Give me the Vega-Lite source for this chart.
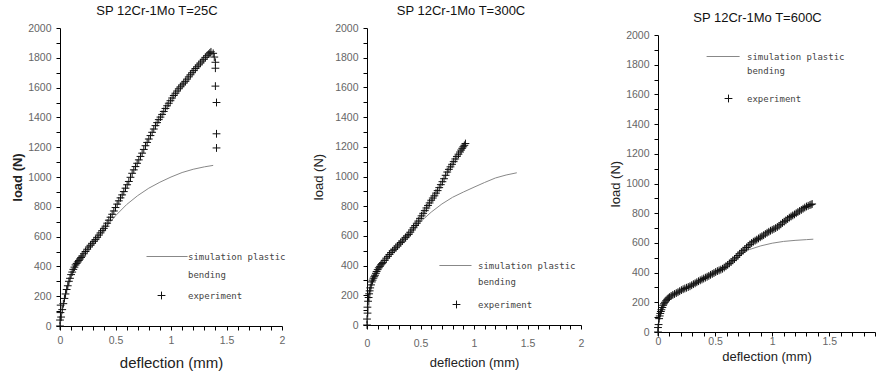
{
  "$schema": "https://vega.github.io/schema/vega-lite/v6.json",
  "background": "white",
  "padding": {"left": 11, "top": 5, "right": 0, "bottom": 0},
  "bounds": "flush",
  "spacing": 85,
  "config": {
    "view": {"stroke": null},
    "font": "Liberation Sans",
    "axis": {
      "domainColor": "#000",
      "domainWidth": 1,
      "tickColor": "#000",
      "tickSize": 4,
      "labelFontSize": 10.5,
      "labelColor": "#666",
      "labelPadding": 5,
      "titleColor": "#222",
      "titleFontWeight": "normal",
      "grid": false,
      "labelOverlap": false,
      "labelFlush": false
    },
    "legend": {
      "orient": "none",
      "title": null,
      "symbolSize": 36,
      "symbolStrokeWidth": 1,
      "symbolOpacity": 1,
      "labelFont": "DejaVu Sans Mono",
      "labelFontSize": 9,
      "labelColor": "#444",
      "padding": 0
    }
  },
  "resolve": {
    "scale": {"x": "independent", "y": "independent", "color": "independent", "shape": "independent"},
    "legend": {"color": "independent", "shape": "independent"},
    "axis": {"x": "independent", "y": "independent"}
  },
  "datasets": {
    "p1sim": [
      {"d": 0, "load": 0}, {"d": 0.02, "load": 100}, {"d": 0.05, "load": 210}, {"d": 0.1, "load": 340}, {"d": 0.15, "load": 420}, {"d": 0.2, "load": 475}, {"d": 0.3, "load": 565}, {"d": 0.4, "load": 650}, {"d": 0.5, "load": 740}, {"d": 0.6, "load": 815}, {"d": 0.7, "load": 875}, {"d": 0.8, "load": 925}, {"d": 0.9, "load": 965}, {"d": 1.0, "load": 1000}, {"d": 1.1, "load": 1030}, {"d": 1.2, "load": 1052}, {"d": 1.3, "load": 1068}, {"d": 1.38, "load": 1078}
    ],
    "p1exp": [
      {"d": 0, "load": 0, "s": "exp"}, {"d": 0, "load": 40, "s": "exp"}, {"d": 0.004, "load": 90, "s": "exp"}, {"d": 0.006, "load": 140, "s": "exp"}, {"d": 0.01, "load": 60, "s": "exp"}, {"d": 0.02, "load": 110, "s": "exp"}, {"d": 0.03, "load": 150, "s": "exp"}, {"d": 0.04, "load": 185, "s": "exp"}, {"d": 0.05, "load": 215, "s": "exp"}, {"d": 0.06, "load": 245, "s": "exp"}, {"d": 0.07, "load": 270, "s": "exp"}, {"d": 0.08, "load": 300, "s": "exp"}, {"d": 0.09, "load": 320, "s": "exp"}, {"d": 0.1, "load": 345, "s": "exp"}, {"d": 0.11, "load": 362, "s": "exp"}, {"d": 0.12, "load": 380, "s": "exp"}, {"d": 0.13, "load": 395, "s": "exp"}, {"d": 0.14, "load": 410, "s": "exp"}, {"d": 0.15, "load": 420, "s": "exp"}, {"d": 0.16, "load": 430, "s": "exp"}, {"d": 0.17, "load": 440, "s": "exp"}, {"d": 0.18, "load": 450, "s": "exp"}, {"d": 0.19, "load": 460, "s": "exp"}, {"d": 0.2, "load": 470, "s": "exp"}, {"d": 0.215, "load": 485, "s": "exp"}, {"d": 0.23, "load": 500, "s": "exp"}, {"d": 0.245, "load": 515, "s": "exp"}, {"d": 0.26, "load": 530, "s": "exp"}, {"d": 0.275, "load": 542, "s": "exp"}, {"d": 0.29, "load": 555, "s": "exp"}, {"d": 0.305, "load": 568, "s": "exp"}, {"d": 0.32, "load": 580, "s": "exp"}, {"d": 0.335, "load": 595, "s": "exp"}, {"d": 0.35, "load": 610, "s": "exp"}, {"d": 0.365, "load": 625, "s": "exp"}, {"d": 0.38, "load": 640, "s": "exp"}, {"d": 0.395, "load": 655, "s": "exp"}, {"d": 0.41, "load": 670, "s": "exp"}, {"d": 0.425, "load": 690, "s": "exp"}, {"d": 0.44, "load": 710, "s": "exp"}, {"d": 0.455, "load": 730, "s": "exp"}, {"d": 0.47, "load": 750, "s": "exp"}, {"d": 0.485, "load": 772, "s": "exp"}, {"d": 0.5, "load": 795, "s": "exp"}, {"d": 0.515, "load": 818, "s": "exp"}, {"d": 0.53, "load": 840, "s": "exp"}, {"d": 0.545, "load": 860, "s": "exp"}, {"d": 0.56, "load": 880, "s": "exp"}, {"d": 0.575, "load": 902, "s": "exp"}, {"d": 0.59, "load": 925, "s": "exp"}, {"d": 0.605, "load": 948, "s": "exp"}, {"d": 0.62, "load": 970, "s": "exp"}, {"d": 0.635, "load": 998, "s": "exp"}, {"d": 0.65, "load": 1025, "s": "exp"}, {"d": 0.665, "load": 1048, "s": "exp"}, {"d": 0.68, "load": 1070, "s": "exp"}, {"d": 0.695, "load": 1092, "s": "exp"}, {"d": 0.71, "load": 1115, "s": "exp"}, {"d": 0.725, "load": 1138, "s": "exp"}, {"d": 0.74, "load": 1160, "s": "exp"}, {"d": 0.755, "load": 1185, "s": "exp"}, {"d": 0.77, "load": 1210, "s": "exp"}, {"d": 0.785, "load": 1232, "s": "exp"}, {"d": 0.8, "load": 1255, "s": "exp"}, {"d": 0.815, "load": 1278, "s": "exp"}, {"d": 0.83, "load": 1300, "s": "exp"}, {"d": 0.845, "load": 1322, "s": "exp"}, {"d": 0.86, "load": 1345, "s": "exp"}, {"d": 0.875, "load": 1365, "s": "exp"}, {"d": 0.89, "load": 1385, "s": "exp"}, {"d": 0.905, "load": 1402, "s": "exp"}, {"d": 0.92, "load": 1420, "s": "exp"}, {"d": 0.935, "load": 1440, "s": "exp"}, {"d": 0.95, "load": 1460, "s": "exp"}, {"d": 0.965, "load": 1478, "s": "exp"}, {"d": 0.98, "load": 1495, "s": "exp"}, {"d": 0.995, "load": 1512, "s": "exp"}, {"d": 1.01, "load": 1530, "s": "exp"}, {"d": 1.025, "load": 1547, "s": "exp"}, {"d": 1.04, "load": 1562, "s": "exp"}, {"d": 1.055, "load": 1577, "s": "exp"}, {"d": 1.07, "load": 1592, "s": "exp"}, {"d": 1.085, "load": 1605, "s": "exp"}, {"d": 1.1, "load": 1618, "s": "exp"}, {"d": 1.115, "load": 1630, "s": "exp"}, {"d": 1.13, "load": 1642, "s": "exp"}, {"d": 1.145, "load": 1657, "s": "exp"}, {"d": 1.16, "load": 1672, "s": "exp"}, {"d": 1.175, "load": 1686, "s": "exp"}, {"d": 1.19, "load": 1700, "s": "exp"}, {"d": 1.205, "load": 1714, "s": "exp"}, {"d": 1.22, "load": 1728, "s": "exp"}, {"d": 1.235, "load": 1740, "s": "exp"}, {"d": 1.25, "load": 1752, "s": "exp"}, {"d": 1.265, "load": 1765, "s": "exp"}, {"d": 1.28, "load": 1778, "s": "exp"}, {"d": 1.295, "load": 1790, "s": "exp"}, {"d": 1.31, "load": 1803, "s": "exp"}, {"d": 1.325, "load": 1814, "s": "exp"}, {"d": 1.34, "load": 1825, "s": "exp"}, {"d": 1.35, "load": 1833, "s": "exp"}, {"d": 1.36, "load": 1840, "s": "exp"}, {"d": 1.38, "load": 1830, "s": "exp"}, {"d": 1.39, "load": 1805, "s": "exp"}, {"d": 1.4, "load": 1770, "s": "exp"}, {"d": 1.4, "load": 1730, "s": "exp"}, {"d": 1.4, "load": 1610, "s": "exp"}, {"d": 1.41, "load": 1500, "s": "exp"}, {"d": 1.41, "load": 1290, "s": "exp"}, {"d": 1.41, "load": 1195, "s": "exp"}
    ],
    "p2sim": [
      {"d": 0, "load": 0}, {"d": 0.02, "load": 150}, {"d": 0.05, "load": 290}, {"d": 0.1, "load": 370}, {"d": 0.2, "load": 460}, {"d": 0.3, "load": 545}, {"d": 0.4, "load": 620}, {"d": 0.5, "load": 695}, {"d": 0.6, "load": 760}, {"d": 0.7, "load": 815}, {"d": 0.8, "load": 860}, {"d": 0.9, "load": 895}, {"d": 1.0, "load": 928}, {"d": 1.1, "load": 960}, {"d": 1.2, "load": 990}, {"d": 1.3, "load": 1010}, {"d": 1.4, "load": 1025}
    ],
    "p2exp": [
      {"d": 0, "load": 0, "s": "exp"}, {"d": 0, "load": 40, "s": "exp"}, {"d": 0.005, "load": 80, "s": "exp"}, {"d": 0.004, "load": 120, "s": "exp"}, {"d": 0.01, "load": 160, "s": "exp"}, {"d": 0.015, "load": 185, "s": "exp"}, {"d": 0.02, "load": 210, "s": "exp"}, {"d": 0.025, "load": 230, "s": "exp"}, {"d": 0.03, "load": 250, "s": "exp"}, {"d": 0.038, "load": 270, "s": "exp"}, {"d": 0.045, "load": 290, "s": "exp"}, {"d": 0.052, "load": 302, "s": "exp"}, {"d": 0.06, "load": 315, "s": "exp"}, {"d": 0.068, "load": 325, "s": "exp"}, {"d": 0.075, "load": 335, "s": "exp"}, {"d": 0.083, "load": 348, "s": "exp"}, {"d": 0.09, "load": 360, "s": "exp"}, {"d": 0.1, "load": 373, "s": "exp"}, {"d": 0.11, "load": 385, "s": "exp"}, {"d": 0.12, "load": 395, "s": "exp"}, {"d": 0.13, "load": 405, "s": "exp"}, {"d": 0.14, "load": 413, "s": "exp"}, {"d": 0.15, "load": 420, "s": "exp"}, {"d": 0.165, "load": 435, "s": "exp"}, {"d": 0.18, "load": 450, "s": "exp"}, {"d": 0.195, "load": 462, "s": "exp"}, {"d": 0.21, "load": 475, "s": "exp"}, {"d": 0.225, "load": 488, "s": "exp"}, {"d": 0.24, "load": 500, "s": "exp"}, {"d": 0.255, "load": 510, "s": "exp"}, {"d": 0.27, "load": 520, "s": "exp"}, {"d": 0.285, "load": 532, "s": "exp"}, {"d": 0.3, "load": 545, "s": "exp"}, {"d": 0.315, "load": 555, "s": "exp"}, {"d": 0.33, "load": 565, "s": "exp"}, {"d": 0.345, "load": 578, "s": "exp"}, {"d": 0.36, "load": 590, "s": "exp"}, {"d": 0.375, "load": 600, "s": "exp"}, {"d": 0.39, "load": 610, "s": "exp"}, {"d": 0.405, "load": 625, "s": "exp"}, {"d": 0.42, "load": 640, "s": "exp"}, {"d": 0.435, "load": 655, "s": "exp"}, {"d": 0.45, "load": 670, "s": "exp"}, {"d": 0.465, "load": 685, "s": "exp"}, {"d": 0.48, "load": 700, "s": "exp"}, {"d": 0.495, "load": 718, "s": "exp"}, {"d": 0.51, "load": 735, "s": "exp"}, {"d": 0.525, "load": 752, "s": "exp"}, {"d": 0.54, "load": 770, "s": "exp"}, {"d": 0.555, "load": 788, "s": "exp"}, {"d": 0.57, "load": 805, "s": "exp"}, {"d": 0.585, "load": 822, "s": "exp"}, {"d": 0.6, "load": 840, "s": "exp"}, {"d": 0.615, "load": 855, "s": "exp"}, {"d": 0.63, "load": 870, "s": "exp"}, {"d": 0.645, "load": 888, "s": "exp"}, {"d": 0.66, "load": 905, "s": "exp"}, {"d": 0.675, "load": 925, "s": "exp"}, {"d": 0.69, "load": 945, "s": "exp"}, {"d": 0.705, "load": 965, "s": "exp"}, {"d": 0.72, "load": 985, "s": "exp"}, {"d": 0.735, "load": 1008, "s": "exp"}, {"d": 0.75, "load": 1030, "s": "exp"}, {"d": 0.765, "load": 1048, "s": "exp"}, {"d": 0.78, "load": 1065, "s": "exp"}, {"d": 0.795, "load": 1082, "s": "exp"}, {"d": 0.81, "load": 1100, "s": "exp"}, {"d": 0.825, "load": 1118, "s": "exp"}, {"d": 0.84, "load": 1135, "s": "exp"}, {"d": 0.855, "load": 1150, "s": "exp"}, {"d": 0.87, "load": 1165, "s": "exp"}, {"d": 0.88, "load": 1178, "s": "exp"}, {"d": 0.89, "load": 1190, "s": "exp"}, {"d": 0.9, "load": 1200, "s": "exp"}, {"d": 0.91, "load": 1210, "s": "exp"}, {"d": 0.92, "load": 1222, "s": "exp"}
    ],
    "p3sim": [
      {"d": 0, "load": 0}, {"d": 0.01, "load": 90}, {"d": 0.03, "load": 150}, {"d": 0.06, "load": 200}, {"d": 0.1, "load": 235}, {"d": 0.2, "load": 278}, {"d": 0.3, "load": 315}, {"d": 0.4, "load": 358}, {"d": 0.5, "load": 400}, {"d": 0.6, "load": 445}, {"d": 0.7, "load": 510}, {"d": 0.8, "load": 555}, {"d": 0.9, "load": 580}, {"d": 1.0, "load": 598}, {"d": 1.1, "load": 610}, {"d": 1.2, "load": 617}, {"d": 1.3, "load": 622}, {"d": 1.36, "load": 625}
    ],
    "p3exp": [
      {"d": 0, "load": 0, "s": "exp"}, {"d": 0, "load": 30, "s": "exp"}, {"d": 0.005, "load": 50, "s": "exp"}, {"d": 0.01, "load": 90, "s": "exp"}, {"d": 0.015, "load": 108, "s": "exp"}, {"d": 0.02, "load": 125, "s": "exp"}, {"d": 0.025, "load": 138, "s": "exp"}, {"d": 0.03, "load": 150, "s": "exp"}, {"d": 0.038, "load": 165, "s": "exp"}, {"d": 0.045, "load": 180, "s": "exp"}, {"d": 0.052, "load": 190, "s": "exp"}, {"d": 0.06, "load": 200, "s": "exp"}, {"d": 0.07, "load": 210, "s": "exp"}, {"d": 0.08, "load": 220, "s": "exp"}, {"d": 0.09, "load": 228, "s": "exp"}, {"d": 0.1, "load": 235, "s": "exp"}, {"d": 0.115, "load": 243, "s": "exp"}, {"d": 0.13, "load": 250, "s": "exp"}, {"d": 0.145, "load": 256, "s": "exp"}, {"d": 0.16, "load": 262, "s": "exp"}, {"d": 0.175, "load": 268, "s": "exp"}, {"d": 0.19, "load": 275, "s": "exp"}, {"d": 0.205, "load": 282, "s": "exp"}, {"d": 0.22, "load": 288, "s": "exp"}, {"d": 0.235, "load": 293, "s": "exp"}, {"d": 0.25, "load": 298, "s": "exp"}, {"d": 0.265, "load": 303, "s": "exp"}, {"d": 0.28, "load": 308, "s": "exp"}, {"d": 0.295, "load": 315, "s": "exp"}, {"d": 0.31, "load": 322, "s": "exp"}, {"d": 0.325, "load": 328, "s": "exp"}, {"d": 0.34, "load": 335, "s": "exp"}, {"d": 0.355, "load": 342, "s": "exp"}, {"d": 0.37, "load": 348, "s": "exp"}, {"d": 0.385, "load": 354, "s": "exp"}, {"d": 0.4, "load": 360, "s": "exp"}, {"d": 0.415, "load": 366, "s": "exp"}, {"d": 0.43, "load": 372, "s": "exp"}, {"d": 0.445, "load": 378, "s": "exp"}, {"d": 0.46, "load": 385, "s": "exp"}, {"d": 0.475, "load": 391, "s": "exp"}, {"d": 0.49, "load": 397, "s": "exp"}, {"d": 0.505, "load": 404, "s": "exp"}, {"d": 0.52, "load": 410, "s": "exp"}, {"d": 0.535, "load": 415, "s": "exp"}, {"d": 0.55, "load": 420, "s": "exp"}, {"d": 0.565, "load": 426, "s": "exp"}, {"d": 0.58, "load": 434, "s": "exp"}, {"d": 0.595, "load": 443, "s": "exp"}, {"d": 0.61, "load": 452, "s": "exp"}, {"d": 0.625, "load": 462, "s": "exp"}, {"d": 0.64, "load": 472, "s": "exp"}, {"d": 0.655, "load": 482, "s": "exp"}, {"d": 0.67, "load": 492, "s": "exp"}, {"d": 0.685, "load": 503, "s": "exp"}, {"d": 0.7, "load": 515, "s": "exp"}, {"d": 0.715, "load": 527, "s": "exp"}, {"d": 0.73, "load": 538, "s": "exp"}, {"d": 0.745, "load": 548, "s": "exp"}, {"d": 0.76, "load": 558, "s": "exp"}, {"d": 0.775, "load": 569, "s": "exp"}, {"d": 0.79, "load": 580, "s": "exp"}, {"d": 0.805, "load": 590, "s": "exp"}, {"d": 0.82, "load": 600, "s": "exp"}, {"d": 0.835, "load": 608, "s": "exp"}, {"d": 0.85, "load": 615, "s": "exp"}, {"d": 0.865, "load": 622, "s": "exp"}, {"d": 0.88, "load": 630, "s": "exp"}, {"d": 0.895, "load": 638, "s": "exp"}, {"d": 0.91, "load": 645, "s": "exp"}, {"d": 0.925, "load": 652, "s": "exp"}, {"d": 0.94, "load": 660, "s": "exp"}, {"d": 0.955, "load": 668, "s": "exp"}, {"d": 0.97, "load": 675, "s": "exp"}, {"d": 0.985, "load": 682, "s": "exp"}, {"d": 1.0, "load": 688, "s": "exp"}, {"d": 1.015, "load": 694, "s": "exp"}, {"d": 1.03, "load": 700, "s": "exp"}, {"d": 1.045, "load": 707, "s": "exp"}, {"d": 1.06, "load": 715, "s": "exp"}, {"d": 1.075, "load": 725, "s": "exp"}, {"d": 1.09, "load": 735, "s": "exp"}, {"d": 1.105, "load": 743, "s": "exp"}, {"d": 1.12, "load": 752, "s": "exp"}, {"d": 1.135, "load": 761, "s": "exp"}, {"d": 1.15, "load": 770, "s": "exp"}, {"d": 1.165, "load": 778, "s": "exp"}, {"d": 1.18, "load": 785, "s": "exp"}, {"d": 1.195, "load": 792, "s": "exp"}, {"d": 1.21, "load": 800, "s": "exp"}, {"d": 1.225, "load": 808, "s": "exp"}, {"d": 1.24, "load": 815, "s": "exp"}, {"d": 1.255, "load": 822, "s": "exp"}, {"d": 1.27, "load": 830, "s": "exp"}, {"d": 1.285, "load": 838, "s": "exp"}, {"d": 1.3, "load": 845, "s": "exp"}, {"d": 1.315, "load": 850, "s": "exp"}, {"d": 1.33, "load": 855, "s": "exp"}, {"d": 1.34, "load": 858, "s": "exp"}, {"d": 1.35, "load": 862, "s": "exp"}
    ]
  },
  "hconcat": [
    {
      "title": {"text": "SP 12Cr-1Mo T=25C", "fontSize": 13, "fontWeight": "normal", "font": "Liberation Sans", "color": "#111", "offset": 5, "dx": -14},
      "width": 222,
      "height": 298,
      "encoding": {
        "x": {"field": "d", "type": "quantitative", "scale": {"domain": [0, 2], "nice": false},
          "axis": {"title": "deflection (mm)", "titleFontSize": 15, "titlePadding": 10, "labelPadding": 5,
            "values": [0, 0.1, 0.2, 0.3, 0.4, 0.5, 0.6, 0.7, 0.8, 0.9, 1, 1.1, 1.2, 1.3, 1.4, 1.5, 1.6, 1.7, 1.8, 1.9, 2],
            "labelExpr": "round(datum.value * 10) % 5 == 0 ? format(datum.value, '~g') : ''"}},
        "y": {"field": "load", "type": "quantitative", "scale": {"domain": [0, 2000], "nice": false},
          "axis": {"title": "load (N)", "titleFontSize": 13, "titleFontWeight": "bold", "titlePadding": 3,
            "values": [0, 100, 200, 300, 400, 500, 600, 700, 800, 900, 1000, 1100, 1200, 1300, 1400, 1500, 1600, 1700, 1800, 1900, 2000],
            "labelExpr": "datum.value % 200 == 0 ? format(datum.value, 'd') : ''"}}
      },
      "layer": [
        {
          "data": {"name": "p1sim"},
          "mark": {"type": "line", "strokeWidth": 1, "color": "#888"}
        },
        {
          "data": {"name": "p1exp"},
          "mark": {"type": "point", "filled": false, "strokeWidth": 1, "size": 36, "opacity": 1},
          "encoding": {
            "color": {"field": "s", "type": "nominal", "scale": {"domain": ["sim", "exp"], "range": ["#888", "#111"]},
              "legend": {"legendX": 97, "legendY": 224, "labelOffset": 22, "rowPadding": 9,
                "labelExpr": "datum.label == 'sim' ? ['simulation plastic', 'bending'] : 'experiment'",
                "encoding": {"labels": {"lineHeight": {"value": 18}}}}},
            "shape": {"field": "s", "type": "nominal", "scale": {"domain": ["sim", "exp"], "range": ["M-5,0H8.7", "M-1.3,0H1.3M0,-1.3V1.3"]},
              "legend": {"legendX": 97, "legendY": 224, "labelOffset": 22, "rowPadding": 9,
                "labelExpr": "datum.label == 'sim' ? ['simulation plastic', 'bending'] : 'experiment'",
                "encoding": {"labels": {"lineHeight": {"value": 18}}}}}
          }
        }
      ]
    },
    {
      "bounds": "flush",
      "spacing": 77,
      "resolve": {
        "scale": {"x": "independent", "y": "independent", "color": "independent", "shape": "independent"},
        "legend": {"color": "independent", "shape": "independent"},
        "axis": {"x": "independent", "y": "independent"}
      },
      "hconcat": [
        {
          "title": {"text": "SP 12Cr-1Mo T=300C", "fontSize": 13, "fontWeight": "normal", "font": "Liberation Sans", "color": "#111", "offset": 5, "dx": -13},
          "width": 214,
          "height": 297,
          "encoding": {
            "x": {"field": "d", "type": "quantitative", "scale": {"domain": [0, 2], "nice": false},
              "axis": {"title": "deflection (mm)", "titleFontSize": 13, "titlePadding": 8, "labelPadding": 9,
                "values": [0, 0.1, 0.2, 0.3, 0.4, 0.5, 0.6, 0.7, 0.8, 0.9, 1, 1.1, 1.2, 1.3, 1.4, 1.5, 1.6, 1.7, 1.8, 1.9, 2],
                "labelExpr": "round(datum.value * 10) % 5 == 0 ? format(datum.value, '~g') : ''"}},
            "y": {"field": "load", "type": "quantitative", "scale": {"domain": [0, 2000], "nice": false},
              "axis": {"title": "load (N)", "titleFontSize": 13, "titlePadding": 9,
                "values": [0, 100, 200, 300, 400, 500, 600, 700, 800, 900, 1000, 1100, 1200, 1300, 1400, 1500, 1600, 1700, 1800, 1900, 2000],
                "labelExpr": "datum.value % 200 == 0 ? format(datum.value, 'd') : ''"}}
          },
          "layer": [
            {
              "data": {"name": "p2sim"},
              "mark": {"type": "line", "strokeWidth": 1, "color": "#888"}
            },
            {
              "data": {"name": "p2exp"},
              "mark": {"type": "point", "filled": false, "strokeWidth": 1, "size": 36, "opacity": 1},
              "encoding": {
                "color": {"field": "s", "type": "nominal", "scale": {"domain": ["sim", "exp"], "range": ["#888", "#111"]},
                  "legend": {"legendX": 85, "legendY": 233, "labelOffset": 17, "rowPadding": 11,
                    "labelExpr": "datum.label == 'sim' ? ['simulation plastic', 'bending'] : 'experiment'",
                    "encoding": {"labels": {"lineHeight": {"value": 16}}}}},
                "shape": {"field": "s", "type": "nominal", "scale": {"domain": ["sim", "exp"], "range": ["M-5.7,0H5", "M-1.3,0H1.3M0,-1.3V1.3"]},
                  "legend": {"legendX": 85, "legendY": 233, "labelOffset": 17, "rowPadding": 11,
                    "labelExpr": "datum.label == 'sim' ? ['simulation plastic', 'bending'] : 'experiment'",
                    "encoding": {"labels": {"lineHeight": {"value": 16}}}}}
              }
            }
          ]
        },
        {
          "bounds": "flush",
          "spacing": 0,
          "vconcat": [
            {
              "width": 217,
              "height": 7,
              "data": {"values": [{}]},
              "mark": {"type": "rule", "opacity": 0},
              "encoding": {}
            },
            {
              "title": {"text": "SP 12Cr-1Mo T=600C", "fontSize": 13, "fontWeight": "normal", "font": "Liberation Sans", "color": "#111", "offset": 5, "dx": -9},
              "width": 217,
              "height": 297,
              "encoding": {
                "x": {"field": "d", "type": "quantitative", "scale": {"domain": [0, 1.9], "nice": false},
                  "axis": {"title": "deflection (mm)", "titleFontSize": 13, "titlePadding": 4, "labelPadding": 0,
                    "values": [0, 0.1, 0.2, 0.3, 0.4, 0.5, 0.6, 0.7, 0.8, 0.9, 1, 1.1, 1.2, 1.3, 1.4, 1.5, 1.6, 1.7, 1.8, 1.9],
                    "labelExpr": "round(datum.value * 10) % 5 == 0 ? format(datum.value, '~g') : ''"}},
                "y": {"field": "load", "type": "quantitative", "scale": {"domain": [0, 2000], "nice": false},
                  "axis": {"title": "load (N)", "titleFontSize": 13, "titlePadding": 3,
                    "values": [0, 100, 200, 300, 400, 500, 600, 700, 800, 900, 1000, 1100, 1200, 1300, 1400, 1500, 1600, 1700, 1800, 1900, 2000],
                    "labelExpr": "datum.value % 200 == 0 ? format(datum.value, 'd') : ''"}}
              },
              "layer": [
                {
                  "data": {"name": "p3sim"},
                  "mark": {"type": "line", "strokeWidth": 1, "color": "#888"}
                },
                {
                  "data": {"name": "p3exp"},
                  "mark": {"type": "point", "filled": false, "strokeWidth": 1, "size": 36, "opacity": 1},
                  "encoding": {
                    "color": {"field": "s", "type": "nominal", "scale": {"domain": ["sim", "exp"], "range": ["#888", "#111"]},
                      "legend": {"legendX": 66, "legendY": 24, "labelOffset": 14, "rowPadding": 16,
                        "labelExpr": "datum.label == 'sim' ? ['simulation plastic', 'bending'] : 'experiment'",
                        "encoding": {"labels": {"lineHeight": {"value": 14}}}}},
                    "shape": {"field": "s", "type": "nominal", "scale": {"domain": ["sim", "exp"], "range": ["M-7.3,0H3.7", "M-1.3,0H1.3M0,-1.3V1.3"]},
                      "legend": {"legendX": 66, "legendY": 24, "labelOffset": 14, "rowPadding": 16,
                        "labelExpr": "datum.label == 'sim' ? ['simulation plastic', 'bending'] : 'experiment'",
                        "encoding": {"labels": {"lineHeight": {"value": 14}}}}}
                  }
                }
              ]
            }
          ]
        }
      ]
    }
  ]
}
